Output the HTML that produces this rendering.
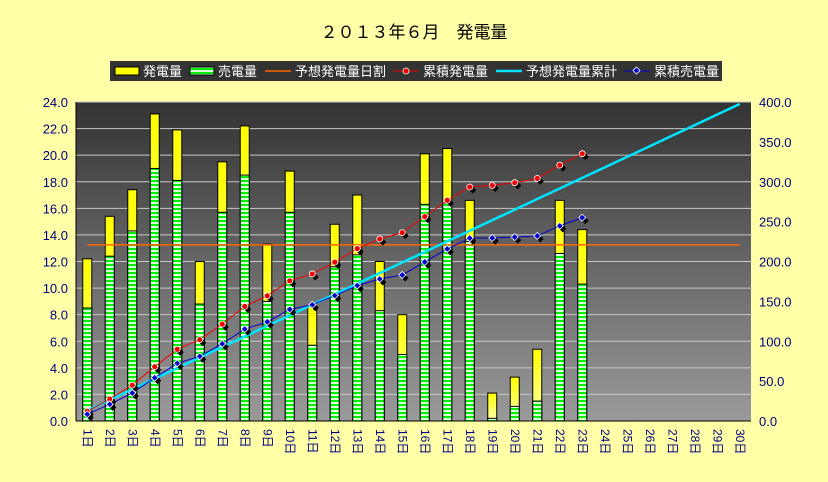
<!DOCTYPE html>
<html><head><meta charset="utf-8"><style>
body{margin:0;background:#ffffa8;}
svg{display:block;font-family:"Liberation Sans","Noto Sans CJK JP",sans-serif;}
</style></head><body>
<svg id="c" width="828" height="482">
<defs>
<linearGradient id="bg" x1="0" y1="0" x2="0" y2="1"><stop offset="0" stop-color="#333"/><stop offset="1" stop-color="#9a9a9a"/></linearGradient>
<linearGradient id="yel" x1="0" y1="0" x2="0" y2="1"><stop offset="0" stop-color="#ffff00"/><stop offset="1" stop-color="#ffffb0"/></linearGradient>
<pattern id="grn" width="4" height="4" patternUnits="userSpaceOnUse"><rect width="4" height="4" fill="#00ee00"/><rect y="2" width="4" height="2" fill="#d8ffd8"/></pattern>
</defs>
<rect width="828" height="482" fill="#ffffa8"/>
<text x="414" y="38" text-anchor="middle" font-size="17" fill="#000">２０１３年６月　発電量</text>
<g>
<rect x="110" y="61" width="612" height="20" fill="#333"/>
<rect x="115" y="67" width="24" height="8" fill="#ffff00" stroke="#000"/>
<text x="143" y="76" font-size="13" fill="#fff">発電量</text>
<rect x="190" y="67" width="24" height="8" fill="url(#grn)" stroke="#000"/>
<text x="218" y="76" font-size="13" fill="#fff">売電量</text>
<line x1="265" y1="71" x2="291" y2="71" stroke="#ff6600" stroke-width="1.5"/>
<text x="295" y="76" font-size="13" fill="#fff">予想発電量日割</text>
<line x1="393" y1="71" x2="419" y2="71" stroke="#e00" stroke-width="1"/><circle cx="406" cy="71" r="3" fill="#e00" stroke="#fff" stroke-width="0.8"/>
<text x="423" y="76" font-size="13" fill="#fff">累積発電量</text>
<line x1="496" y1="71" x2="522" y2="71" stroke="#00e5ff" stroke-width="2.5"/>
<text x="526" y="76" font-size="13" fill="#fff">予想発電量累計</text>
<line x1="624" y1="71" x2="650" y2="71" stroke="#00c" stroke-width="1"/><rect x="634" y="68" width="5" height="5" fill="#00c" stroke="#fff" stroke-width="0.8" transform="rotate(45 636.5 70.5)"/>
<text x="654" y="76" font-size="13" fill="#fff">累積売電量</text>
</g>
<g id="plot"></g>
</svg>
<script>
const days=[];for(let i=1;i<=30;i++)days.push(i+"日");
const generation=[12.2,15.4,17.4,23.1,21.9,12.0,19.5,22.2,13.3,18.8,8.6,14.8,17.0,12.0,8.0,20.1,20.5,16.6,2.1,3.3,5.4,16.6,14.4];
const sold=[8.5,12.4,14.3,19.0,18.1,8.8,15.7,18.5,9.0,15.7,5.7,11.6,12.5,8.3,5.0,16.3,16.4,13.5,0.2,1.1,1.5,12.6,10.3];
const forecastDaily=13.25;
const cumGeneration=[12.2,27.6,45.0,68.1,90.0,102.0,121.5,143.7,157.0,175.8,184.4,199.2,216.2,228.2,236.2,256.3,276.8,293.4,295.5,298.8,304.2,320.8,335.2];
const cumSold=[8.5,20.9,35.2,54.2,72.3,81.1,96.8,115.3,124.3,140.0,145.7,157.3,169.8,178.1,183.1,199.4,215.8,229.3,229.5,230.6,232.1,244.7,255.0];
const cumForecast=[13.3,26.5,39.8,53.0,66.3,79.5,92.8,106.0,119.3,132.5,145.8,159.0,172.3,185.5,198.8,212.0,225.3,238.5,251.8,265.0,278.3,291.5,304.8,318.0,331.3,344.5,357.8,371.0,384.3,397.5];
const leftTicks=["0.0","2.0","4.0","6.0","8.0","10.0","12.0","14.0","16.0","18.0","20.0","22.0","24.0"];
const rightTicks=["0.0","50.0","100.0","150.0","200.0","250.0","300.0","350.0","400.0"];

const L=76,R=751,T=102,B=421,NS="http://www.w3.org/2000/svg";
const bw=(R-L)/days.length;
const xc=i=>L+bw*(i+0.5);
const yl=v=>B-(B-T)*v/24;
const yr=v=>B-(B-T)*v/400;
const g=document.getElementById('plot');
function mk(t,a){const e=document.createElementNS(NS,t);for(const k in a)e.setAttribute(k,a[k]);g.appendChild(e);return e;}
let e=mk('rect',{x:L,y:T,width:R-L,height:B-T,fill:'url(#bg)'});


for(let i=1;i<leftTicks.length;i++){const v=parseFloat(leftTicks[i]);
e=mk('line',{x1:L,x2:R,y1:yl(v),y2:yl(v),stroke:'#c8c8c8','stroke-width':1});

}
for(let i=0;i<leftTicks.length;i++){const v=parseFloat(leftTicks[i]);
e=mk('text',{x:L-8,y:yl(v)+5,'text-anchor':'end','font-size':13,fill:'#000080'});e.textContent=leftTicks[i];

}
for(let i=0;i<rightTicks.length;i++){const v=parseFloat(rightTicks[i]);
e=mk('text',{x:R+8,y:yr(v)+5,'font-size':13,fill:'#000080'});e.textContent=rightTicks[i];

}
days.forEach((d,i)=>{e=mk('text',{x:0,y:0,'font-size':12,fill:'#000080',transform:`translate(${xc(i)-4},${B+8}) rotate(90)`});e.textContent=d;

});
const w=9;
generation.forEach((v,i)=>{
e=mk('rect',{x:xc(i)-w/2,y:yl(v),width:w,height:B-yl(v),fill:'url(#yel)',stroke:'#000','stroke-width':1});


const s=sold[i];
e=mk('rect',{x:xc(i)-w/2,y:yl(s),width:w,height:B-yl(s),fill:'url(#grn)',stroke:'#000','stroke-width':1});

});
e=mk('line',{x1:xc(0),x2:xc(days.length-1),y1:yl(forecastDaily),y2:yl(forecastDaily),stroke:'#ff6600','stroke-width':1.5});


e=mk('polyline',{points:cumForecast.map((v,i)=>xc(i)+','+yr(v)).join(' '),fill:'none',stroke:'#00e5ff','stroke-width':2.5});


e=mk('polyline',{points:cumGeneration.map((v,i)=>xc(i)+','+yr(v)).join(' '),fill:'none',stroke:'#e00','stroke-width':1});


e=mk('polyline',{points:cumSold.map((v,i)=>xc(i)+','+yr(v)).join(' '),fill:'none',stroke:'#00c','stroke-width':1});


function diamond(x,y,r,fill,stroke){return mk('polygon',{points:`${x},${y-r} ${x+r},${y} ${x},${y+r} ${x-r},${y}`,fill:fill,stroke:stroke,'stroke-width':0.8});}
cumGeneration.forEach((v,i)=>{diamond(xc(i)+3,yr(v)+3,3.5,'#000','none');
e=mk('circle',{cx:xc(i),cy:yr(v),r:3,fill:'#e00',stroke:'#fff','stroke-width':0.8});

});
cumSold.forEach((v,i)=>{diamond(xc(i)+3,yr(v)+3,3.5,'#000','none');
e=diamond(xc(i),yr(v),3.5,'#00c','#fff');

});
e=mk('line',{x1:L,x2:L,y1:T,y2:B,stroke:'#000'});


e=mk('line',{x1:L,x2:R,y1:B,y2:B,stroke:'#000'});


</script>
</body></html>
